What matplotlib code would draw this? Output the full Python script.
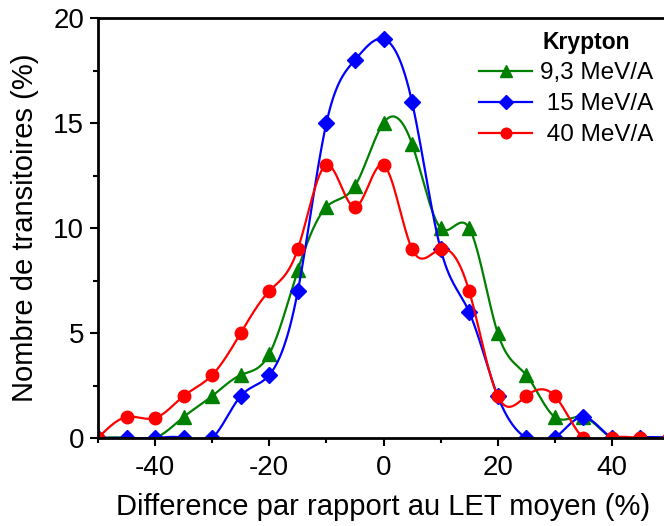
import numpy as np
import matplotlib
matplotlib.use('Agg')
import matplotlib.pyplot as plt

plt.rcParams['font.family'] = ['Liberation Sans', 'DejaVu Sans']
plt.rcParams['font.size'] = 20
plt.rcParams['axes.unicode_minus'] = False

# Data
x_pct = [-50, -45, -40, -35, -30, -25, -20, -15, -10, -5, 0,
         5, 10, 15, 20, 25, 30, 35, 40, 45, 50]
kr_9_3 = [0, 0, 0, 1, 2, 3, 4, 8, 11, 12, 15,
          14, 10, 10, 5, 3, 1, 1, 0, 0, 0]
kr_15 = [0, 0, 0, 0, 0, 2, 3, 7, 15, 18, 19,
         16, 9, 6, 2, 0, 0, 1, 0, 0, 0]
kr_40 = [0, 1, 0.95, 2, 3, 5, 7, 9, 13, 11, 13,
         9, 9, 7, 2, 2, 2, 0, 0, 0, 0]

labels = ['9,3 MeV/A', ' 15 MeV/A', ' 40 MeV/A']
colors = ['green', 'blue', 'red']
markers = ['^', 'D', 'o']
msizes = [9.5, 8, 9]


def natural_spline(x, y, n=600):
    """Natural cubic spline through the points (like Origin's spline line)."""
    x = np.asarray(x, float)
    y = np.asarray(y, float)
    h = np.diff(x)
    m = len(x)
    A = np.zeros((m, m))
    b = np.zeros(m)
    A[0, 0] = A[-1, -1] = 1
    for i in range(1, m - 1):
        A[i, i - 1] = h[i - 1]
        A[i, i] = 2 * (h[i - 1] + h[i])
        A[i, i + 1] = h[i]
        b[i] = 6 * ((y[i + 1] - y[i]) / h[i] - (y[i] - y[i - 1]) / h[i - 1])
    M = np.linalg.solve(A, b)
    xs = np.linspace(x[0], x[-1], n)
    idx = np.clip(np.searchsorted(x, xs) - 1, 0, m - 2)
    x0, x1 = x[idx], x[idx + 1]
    hh = x1 - x0
    t0 = x1 - xs
    t1 = xs - x0
    ys = (M[idx] * t0 ** 3 / (6 * hh) + M[idx + 1] * t1 ** 3 / (6 * hh)
          + (y[idx] / hh - M[idx] * hh / 6) * t0
          + (y[idx + 1] / hh - M[idx + 1] * hh / 6) * t1)
    return xs, ys


fig = plt.figure(figsize=(6.64, 5.26), dpi=100)
ax = fig.add_axes([98 / 664, 1 - 438 / 526, 571 / 664, 420 / 526])

for ys, lab, c, mk, ms in zip([kr_9_3, kr_15, kr_40], labels, colors, markers, msizes):
    sx, sy = natural_spline(x_pct, ys)
    ax.plot(sx, sy, color=c, linewidth=1.6)
    ax.plot(x_pct, ys, linestyle='none', marker=mk, markersize=ms, color=c)
    # proxy for legend (line + marker)
    ax.plot([], [], color=c, linewidth=1.6, marker=mk, markersize=ms * 0.85, label=lab)

ax.set_xlim(-50, 50)
ax.set_ylim(0, 20)
ax.set_xticks([-40, -20, 0, 20, 40])
ax.set_xticks([-50, -30, -10, 10, 30, 50], minor=True)
ax.set_yticks([0, 5, 10, 15, 20])
ax.set_yticks([2.5, 7.5, 12.5, 17.5], minor=True)
ax.tick_params(which='major', direction='out', length=6, width=1.5)
ax.tick_params(which='minor', direction='out', length=3.5, width=1.5)
ax.tick_params(axis='x', pad=6)
ax.tick_params(axis='y', pad=4)

for side in ['left', 'bottom', 'top']:
    ax.spines[side].set_linewidth(2)
ax.spines['right'].set_visible(False)

ax.set_xlabel('Difference par rapport au LET moyen (%)', fontsize=21, labelpad=9)
ax.set_ylabel('Nombre de transitoires (%)', fontsize=21, labelpad=10)

ax.text(586 / 664, 1 - 43 / 526, 'Krypton', transform=fig.transFigure,
        fontsize=16.5, fontweight='bold', ha='center', va='center')
leg = ax.legend(loc='upper right', bbox_to_anchor=(653 / 664, 1 - 62 / 526),
                bbox_transform=fig.transFigure, frameon=False, fontsize=17.5,
                handlelength=2.2, handletextpad=0.3, labelspacing=0.37,
                borderaxespad=0, borderpad=0)

fig.savefig('out.png', dpi=100)
